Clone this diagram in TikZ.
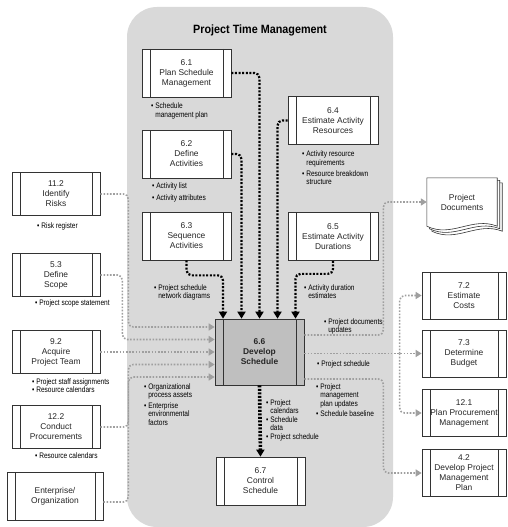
\documentclass[tikz,border=0pt]{standalone}
\usepackage{fontspec}
\setmainfont{Liberation Sans}
\newfontfamily\narrowfont[FakeStretch=0.82]{Liberation Sans}
\newfontfamily\titlefont[FakeStretch=0.9]{Liberation Sans}
\usetikzlibrary{arrows.meta, backgrounds}
\newcommand{\bu}{\textbullet~}
\newcommand{\ind}{\phantom{\textbullet~}}
\tikzset{
  proc/.style={draw=black!80, line width=0.7pt, fill=white, minimum width=89pt, minimum height=48pt,
    inner sep=1pt, align=center, font=\fontsize{8.4}{10}\selectfont, text=black!85,
    path picture={
      \draw[black!80, line width=0.7pt] ([xshift=8pt]path picture bounding box.north west) -- ([xshift=8pt]path picture bounding box.south west);
      \draw[black!80, line width=0.7pt] ([xshift=-8pt]path picture bounding box.north east) -- ([xshift=-8pt]path picture bounding box.south east);}},
  sidebox/.style={proc, minimum width=88pt, minimum height=43pt},
  outbox/.style={proc, minimum width=84pt, minimum height=47pt},
  lbl/.style={anchor=north west, inner sep=0pt, align=left, font=\narrowfont\fontsize{8}{8.5}\selectfont},
  bflow/.style={draw=black, line width=2.2pt, dash pattern=on 2pt off 1.6pt, rounded corners=5pt, -{Triangle[length=7pt, width=8pt]}},
  gflow/.style={draw=gray!75, line width=1.6pt, dash pattern=on 1.6pt off 1.6pt, rounded corners=5pt, -{Triangle[length=6pt, width=7pt, fill=gray!75]}}
}
\begin{document}
\begin{tikzpicture}[x=1pt, y=-1pt]
\useasboundingbox (0,0) rectangle (507,527);
\node[font=\titlefont\bfseries\fontsize{12}{14}\selectfont] (title) at (260,30) {Project Time Management};

\node[proc] (p61) at (186.5,73) {6.1\\Plan Schedule\\Management};
\node[proc] (p62) at (186.5,154) {6.2\\Define\\Activities};
\node[proc] (p63) at (186.5,236) {6.3\\Sequence\\Activities};
\node[proc, minimum width=90pt] (p64) at (333,120.5) {6.4\\Estimate Activity\\Resources};
\node[proc, minimum width=90pt] (p65) at (333,236.5) {6.5\\Estimate Activity\\Durations};
\node[proc, fill=gray!50, minimum height=66pt, font=\bfseries\fontsize{8.4}{10}\selectfont] (p66) at (259.5,352) {6.6\\Develop\\Schedule};
\node[proc] (p67) at (260.5,481) {6.7\\Control\\Schedule};

\node[sidebox] (p112) at (56,194) {11.2\\Identify\\Risks};
\node[sidebox] (p53) at (56,275) {5.3\\Define\\Scope};
\node[sidebox] (p92) at (56,352) {9.2\\Acquire\\Project Team};
\node[sidebox] (p122) at (56,427) {12.2\\Conduct\\Procurements};
\node[proc, minimum width=96pt] (ent) at (55,496) {Enterprise/\\Organization};

\node[align=center, font=\fontsize{8.4}{10}\selectfont, text=black!85, minimum width=70pt, minimum height=48pt, inner sep=0pt] (doc) at (462,202) {Project\\Documents};
\node[outbox] (p72) at (464,295.5) {7.2\\Estimate\\Costs};
\node[outbox] (p73) at (464,353.5) {7.3\\Determine\\Budget};
\node[outbox] (p121) at (464,413) {12.1\\Plan Procurement\\Management};
\node[outbox] (p42) at (464,473) {4.2\\Develop Project\\Management\\Plan};

\node[lbl] (l61) at (151,103) {\bu Schedule\\\ind management plan};
\node[lbl] (l62) at (152,183) {\bu Activity list\\[3pt]\bu Activity attributes};
\node[lbl] (l63) at (154,284) {\bu Project schedule\\\ind network diagrams};
\node[lbl] (l64) at (302,151) {\bu Activity resource\\\ind requirements\\[2.5pt]\bu Resource breakdown\\\ind structure};
\node[lbl] (l65) at (304,284) {\bu Activity duration\\\ind estimates};
\node[lbl] (l112) at (37,223) {\bu Risk register};
\node[lbl] (l53) at (35,299) {\bu Project scope statement};
\node[lbl] (l92) at (32,378) {\bu Project staff assignments\\\bu Resource calendars};
\node[lbl] (l122) at (35,452) {\bu Resource calendars};
\node[lbl] (lop) at (144,383) {\bu Organizational\\\ind process assets\\[2pt]\bu Enterprise\\\ind environmental\\\ind factors};
\node[lbl] (ldoc) at (324,318) {\bu Project documents\\\ind updates};
\node[lbl] (lsch) at (317,360) {\bu Project schedule};
\node[lbl] (lpm) at (316,383) {\bu Project\\\ind management\\\ind plan updates\\[2pt]\bu Schedule baseline};
\node[lbl] (l67) at (266,399) {\bu Project\\\ind calendars\\\bu Schedule\\\ind data\\\bu Project schedule};

\draw[bflow] (p61.east) -| (p66.north);
\draw[bflow] (p62.east) -| ([xshift=-18pt]p66.north);
\draw[bflow] (p63.south) -- ++(0,15) -| ([xshift=-36.5pt]p66.north);
\draw[bflow] (p64.west) -| ([xshift=18pt]p66.north);
\draw[bflow] (p65.south) -- ++(0,13) -| ([xshift=36pt]p66.north);
\draw[bflow, line width=3.6pt, dash pattern=on 2pt off 1.5pt] (p66.south) -- (p67.north);

\draw[gflow] (p112.east) -- ++(28,0) |- ([yshift=25pt]p66.west);
\draw[gflow] (p53.east) -- ++(22,0) |- ([yshift=12.5pt]p66.west);
\draw[gflow] (p92.east) -- (p92.east -| p66.west);
\draw[gflow] (p122.east) -- ++(28,0) |- ([yshift=-12.5pt]p66.west);
\draw[gflow] ([yshift=-6pt]ent.east) -- ++(25,0) |- ([yshift=-25pt]p66.west);

\draw[gflow] ([yshift=17pt]p66.east) -- ++(79,0) |- (doc.west);
\draw[gflow] (p66.east |- p73.west) -- (p73.west);
\coordinate (br) at ([xshift=-22pt]p73.west);
\draw[gflow] (br) |- (p72.west);
\draw[gflow] (br) |- (p121.west);
\draw[gflow] ([yshift=-27pt]p66.east) -- ++(79,0) |- (p42.west);

\begin{scope}[on background layer]
\fill[gray!30, rounded corners=30pt] (127,7) rectangle (393,527);
\foreach \o in {5,2.5,0}
  \draw[black!80, fill=white, line width=0.6pt] ([shift={(\o,\o)}]doc.north west) -- ([shift={(\o,\o)}]doc.north east) -- ([shift={(\o,\o)}]doc.south east) .. controls +(-25,-10) and +(25,12) .. ([shift={(\o,\o)}]doc.south west) -- cycle;
\end{scope}
\end{tikzpicture}
\end{document}
